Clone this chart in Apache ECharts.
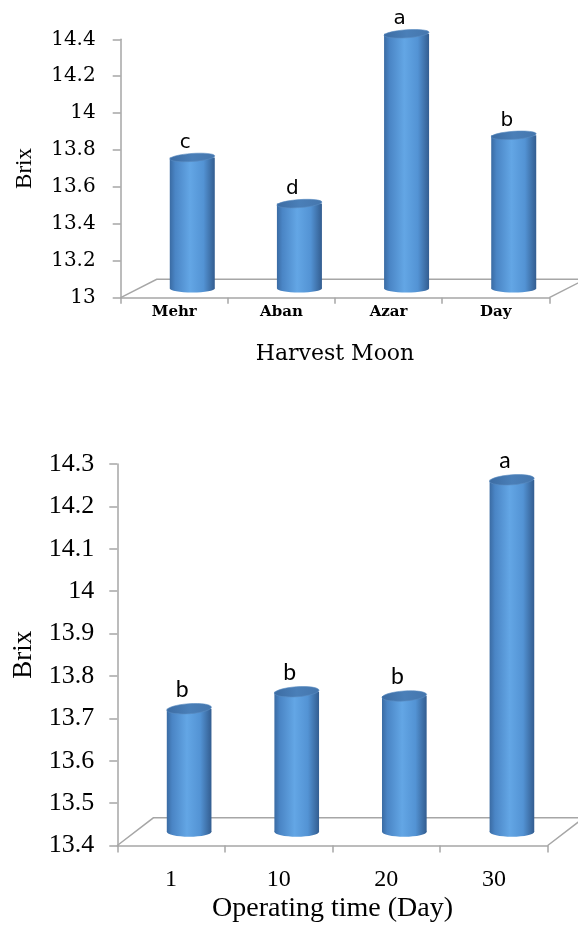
<!DOCTYPE html>
<html>
<head>
<meta charset="utf-8">
<script src="https://cdn.jsdelivr.net/npm/echarts@6/dist/echarts.min.js"></script>
<style>
html,body{margin:0;padding:0;background:#fff;}
#chart{width:578px;height:935px;}
</style>
</head>
<body>
<div id="chart"></div>
<script>
// ---- data ----
const topCategories = ['Mehr', 'Aban', 'Azar', 'Day'];
const topValues = [13.71, 13.46, 14.38, 13.83];
const topLetters = ['c', 'd', 'a', 'b'];
const topYTicks = [13, 13.2, 13.4, 13.6, 13.8, 14, 14.2, 14.4];

const bottomCategories = ['1', '10', '20', '30'];
const bottomValues = [13.69, 13.73, 13.72, 14.23];
const bottomLetters = ['b', 'b', 'b', 'a'];
const bottomYTicks = [13.4, 13.5, 13.6, 13.7, 13.8, 13.9, 14, 14.1, 14.2, 14.3];

// ---- rendering helpers ----
const axisGray = '#a6a6a6';
const SERIF = '"Liberation Serif", "Times New Roman", serif';
const WIDE_SERIF = '"DejaVu Serif", serif';

function bodyGradient() {
  return new echarts.graphic.LinearGradient(0, 0, 1, 0, [
    {offset: 0, color: '#3a6ba3'},
    {offset: 0.12, color: '#4a85c5'},
    {offset: 0.45, color: '#63a6e5'},
    {offset: 0.75, color: '#5393d4'},
    {offset: 1, color: '#335d90'}
  ]);
}
function capGradient() {
  return new echarts.graphic.LinearGradient(0, 0, 1, 0, [
    {offset: 0, color: '#3c6ca3'},
    {offset: 0.5, color: '#4a7fb8'},
    {offset: 1, color: '#4576ad'}
  ]);
}

function cylinderRender(o) {
  return function (params, api) {
    const idx = api.value(0);
    const v = api.value(1);
    const band = api.size([1, 0])[0];
    const p = api.coord([idx, v]);
    const yMin = api.coord([idx, o.min])[1];
    const dx = band * o.dxRatio;
    const dy = o.dy;
    const cx = p[0] + dx / 2;
    const ty = p[1] - dy / 2;
    const by = yMin - dy / 2;
    const w = band * o.wRatio;
    const rx = w / 2;
    return {
      type: 'group',
      children: [
        {type: 'ellipse', shape: {cx: cx, cy: by, rx: rx, ry: o.ry}, style: {fill: bodyGradient()}},
        {type: 'rect', shape: {x: cx - rx, y: ty, width: w, height: by - ty}, style: {fill: bodyGradient()}},
        {type: 'ellipse', shape: {cx: cx, cy: ty, rx: rx, ry: o.ry},
          rotation: 0.07, originX: cx, originY: ty,
          style: {fill: capGradient(), stroke: '#5a8cc2', lineWidth: 0.6}},
        {type: 'text', x: cx + o.labelDx, y: ty - o.labelGap,
          style: {text: o.letters[params.dataIndex], fontSize: o.labelSize, fontFamily: o.labelFamily,
            fill: '#000', align: 'center', verticalAlign: 'bottom'}}
      ]
    };
  };
}

function floorRender(o) {
  return function (params, api) {
    const cs = params.coordSys;
    const band = api.size([1, 0])[0];
    const dx = band * o.dxRatio;
    const dy = o.dy;
    const yb = api.coord([0, o.min])[1];
    const x0 = cs.x, x1 = cs.x + cs.width;
    return {
      type: 'polyline',
      shape: {points: [[x0, yb], [x0 + dx, yb - dy], [x1 + dx, yb - dy], [x1, yb]]},
      style: {stroke: axisGray, lineWidth: 1.5, fill: null}
    };
  };
}

const topOpts = {min: topYTicks[0], dxRatio: 0.336, dy: 18.4, wRatio: 0.42, ry: 4,
  labelDx: -7, labelGap: 5, labelSize: 20, labelFamily: '"DejaVu Sans", sans-serif', letters: topLetters};
const bottomOpts = {min: bottomYTicks[0], dxRatio: 0.335, dy: 27.7, wRatio: 0.415, ry: 5,
  labelDx: -7, labelGap: 8, labelSize: 23, labelFamily: 'Lato, sans-serif', letters: bottomLetters};

const chart = echarts.init(document.getElementById('chart'), null, {renderer: 'canvas'});

const axisLineStyle = {color: axisGray, width: 1.5};

chart.setOption({
  backgroundColor: '#fff',
  animation: false,
  grid: [
    {left: 120.7, right: 28.7, top: 39.3, bottom: 637.3},
    {left: 117.3, right: 30.3, top: 464, bottom: 89.5}
  ],
  xAxis: [
    {
      type: 'category', gridIndex: 0, data: topCategories,
      axisLine: {show: true, lineStyle: axisLineStyle},
      axisTick: {show: true, length: 6, lineStyle: axisLineStyle},
      axisLabel: {margin: 7, color: '#000', fontFamily: WIDE_SERIF, fontWeight: 'bold', fontSize: 15},
      name: 'Harvest Moon', nameLocation: 'middle', nameGap: 46,
      nameTextStyle: {fontFamily: WIDE_SERIF, fontSize: 22, color: '#000'}
    },
    {
      type: 'category', gridIndex: 1, data: bottomCategories,
      axisLine: {show: true, lineStyle: axisLineStyle},
      axisTick: {show: true, length: 7, lineStyle: axisLineStyle},
      axisLabel: {margin: 22, color: '#000', fontFamily: SERIF, fontSize: 24},
      name: 'Operating time (Day)', nameLocation: 'middle', nameGap: 49,
      nameTextStyle: {fontFamily: SERIF, fontSize: 28, color: '#000'}
    }
  ],
  yAxis: [
    {
      type: 'value', gridIndex: 0,
      min: topYTicks[0], max: topYTicks[topYTicks.length - 1],
      interval: +(topYTicks[1] - topYTicks[0]).toFixed(6),
      axisLine: {show: true, lineStyle: axisLineStyle},
      axisTick: {show: true, length: 8, lineStyle: axisLineStyle},
      splitLine: {show: false},
      axisLabel: {margin: 25, color: '#000', fontFamily: WIDE_SERIF, fontSize: 20},
      name: 'Brix', nameLocation: 'middle', nameGap: 84,
      nameTextStyle: {fontFamily: SERIF, fontSize: 23, color: '#000'}
    },
    {
      type: 'value', gridIndex: 1,
      min: bottomYTicks[0], max: bottomYTicks[bottomYTicks.length - 1],
      interval: +(bottomYTicks[1] - bottomYTicks[0]).toFixed(6),
      axisLine: {show: true, lineStyle: axisLineStyle},
      axisTick: {show: true, length: 8, lineStyle: axisLineStyle},
      splitLine: {show: false},
      axisLabel: {margin: 23, color: '#000', fontFamily: SERIF, fontSize: 26},
      name: 'Brix', nameLocation: 'middle', nameGap: 80,
      nameTextStyle: {fontFamily: SERIF, fontSize: 27, color: '#000'}
    }
  ],
  series: [
    {type: 'custom', xAxisIndex: 0, yAxisIndex: 0, z: 1, silent: true,
      renderItem: floorRender(topOpts), data: [[0, topYTicks[0]]]},
    {type: 'custom', xAxisIndex: 0, yAxisIndex: 0, z: 3,
      renderItem: cylinderRender(topOpts),
      data: topValues.map((v, i) => [i, v])},
    {type: 'custom', xAxisIndex: 1, yAxisIndex: 1, z: 1, silent: true,
      renderItem: floorRender(bottomOpts), data: [[0, bottomYTicks[0]]]},
    {type: 'custom', xAxisIndex: 1, yAxisIndex: 1, z: 3,
      renderItem: cylinderRender(bottomOpts),
      data: bottomValues.map((v, i) => [i, v])}
  ]
});
</script>
</body>
</html>
